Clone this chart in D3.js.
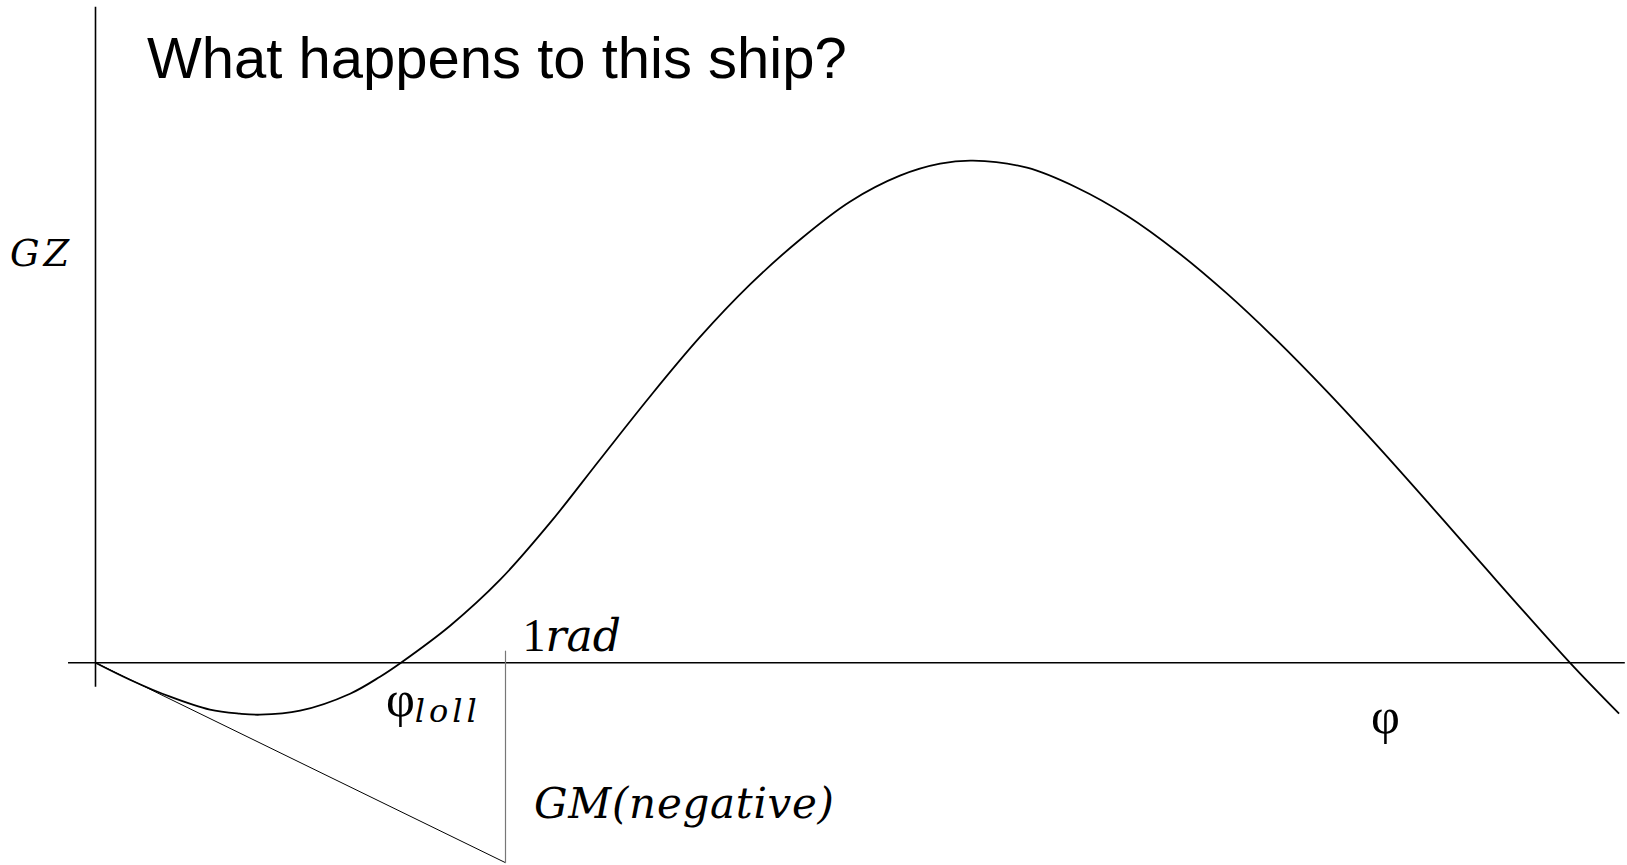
<!DOCTYPE html>
<html>
<head>
<meta charset="utf-8">
<script src="https://cdn.jsdelivr.net/npm/d3@7"></script>
<style>
  html, body { margin: 0; padding: 0; background: #fff; }
  svg { display: block; }
  .title { font-family: "Liberation Sans", Arial, sans-serif; }
  .math { font-family: "DejaVu Serif", serif; font-style: italic; }
  .greek { font-family: "Liberation Serif", serif; }
</style>
</head>
<body>
<div id="chart"></div>
<script>
// GZ curve of a ship with negative GM (angle of loll)
// heel angle in rad, righting arm GZ in m
const heel = [0, 0.084, 0.182, 0.279, 0.352, 0.401, 0.499, 0.621, 0.694, 0.745, 0.865, 0.987,
  1.109, 1.230, 1.352, 1.473, 1.596, 1.718, 1.840, 1.962, 2.060, 2.140, 2.272, 2.394,
  2.516, 2.638, 2.760, 2.882, 3.004, 3.126, 3.248, 3.370, 3.596, 3.716];
const gz = [0, -0.017, -0.034, -0.047, -0.051, -0.052, -0.048, -0.031, -0.014, 0, 0.037, 0.083,
  0.140, 0.203, 0.266, 0.325, 0.378, 0.423, 0.461, 0.487, 0.499, 0.502, 0.495, 0.475,
  0.447, 0.411, 0.369, 0.322, 0.271, 0.217, 0.161, 0.104, 0, -0.051];

const gm = -0.2;              // initial slope at 0 (negative metacentric height)
const xAxisExtent = [-0.067, 3.73];
const yAxisExtent = [-0.024, 0.656];

const width = 1627, height = 865;

const x = d3.scaleLinear([0, 1], [95.5, 505.5]);
const y = d3.scaleLinear([-0.2, 0.5], [862.7, 162.7]);

const svg = d3.select('#chart')
  .append('svg')
  .attr('width', width)
  .attr('height', height);

// axes
svg.append('line')
  .attr('x1', x(xAxisExtent[0])).attr('x2', x(xAxisExtent[1]))
  .attr('y1', y(0)).attr('y2', y(0))
  .attr('stroke', '#000').attr('stroke-width', 1.6);

svg.append('line')
  .attr('x1', x(0)).attr('x2', x(0))
  .attr('y1', y(yAxisExtent[1])).attr('y2', y(yAxisExtent[0]))
  .attr('stroke', '#000').attr('stroke-width', 1.6);

// tangent at origin, slope = GM, up to 1 rad
svg.append('line')
  .attr('x1', x(0)).attr('y1', y(0))
  .attr('x2', x(1)).attr('y2', y(gm))
  .attr('stroke', '#000').attr('stroke-width', 1);

// vertical at 1 rad
svg.append('line')
  .attr('x1', x(1)).attr('x2', x(1))
  .attr('y1', y(0) - 12).attr('y2', y(gm))
  .attr('stroke', '#777').attr('stroke-width', 1.2);

// GZ curve
const pts = heel.map((h, i) => [h, gz[i]]);
const line = d3.line()
  .x(d => x(d[0]))
  .y(d => y(d[1]))
  .curve(d3.curveCatmullRom.alpha(0.5));

svg.append('path')
  .datum(pts)
  .attr('d', line)
  .attr('fill', 'none')
  .attr('stroke', '#000')
  .attr('stroke-width', 1.8);

// labels
svg.append('text')
  .attr('class', 'title')
  .attr('x', 147).attr('y', 78)
  .attr('font-size', 58)
  .text('What happens to this ship?');

svg.append('text')
  .attr('class', 'math')
  .attr('x', 10).attr('y', 266)
  .attr('font-size', 37)
  .attr('letter-spacing', 4)
  .text('GZ');

const rad = svg.append('text')
  .attr('x', x(1) + 17).attr('y', y(0) - 12);
rad.append('tspan').attr('class', 'greek').attr('font-size', 46).text('1');
rad.append('tspan').attr('class', 'math').attr('font-size', 44).text('rad');

const loll = svg.append('text')
  .attr('x', 386).attr('y', 716);
loll.append('tspan').attr('class', 'greek').attr('font-size', 50).text('φ');
loll.append('tspan').attr('class', 'math').attr('font-size', 32)
  .attr('dy', 6).attr('letter-spacing', 4).text('loll');

svg.append('text')
  .attr('class', 'greek')
  .attr('x', 1371).attr('y', 733)
  .attr('font-size', 50)
  .text('φ');

svg.append('text')
  .attr('class', 'math')
  .attr('x', 534).attr('y', 818)
  .attr('font-size', 42)
  .attr('textLength', 300)
  .text('GM(negative)');
</script>
</body>
</html>
